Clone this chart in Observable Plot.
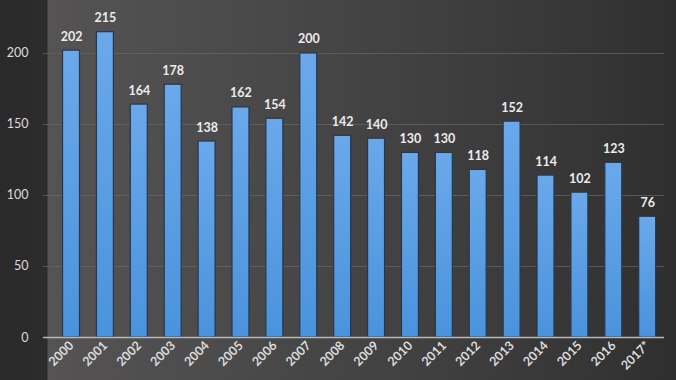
<!DOCTYPE html>
<html>
<head>
<meta charset="utf-8">
<script src="https://cdn.jsdelivr.net/npm/d3@7"></script>
<script src="https://cdn.jsdelivr.net/npm/@observablehq/plot@0.6"></script>
<style>
  html, body { margin: 0; padding: 0; background: #2b2b2b; }
  #chart {
    width: 676px; height: 380px; overflow: hidden;
    background:
      linear-gradient(to right, #2a2a2a 0px, #2c2c2c 47px, rgba(0,0,0,0) 48px),
      linear-gradient(to right, #575555 0%, #4d4c4c 30%, #3f3f3f 65%, #343434 90%, #2e2e2e 100%);
  }
  #chart svg { display: block; }
</style>
</head>
<body>
<div id="chart"></div>
<script>
const years = ["2000","2001","2002","2003","2004","2005","2006","2007","2008","2009","2010","2011","2012","2013","2014","2015","2016","2017*"];
const barValues = [202,215,164,178,138,162,154,200,142,140,130,130,118,152,114,102,123,85];
const valueLabels = ["202","215","164","178","138","162","154","200","142","140","130","130","118","152","114","102","123","76"];
const yTicks = [0,50,100,150,200];

const data = years.map((y, i) => ({year: y, value: barValues[i], label: valueLabels[i]}));

const chart = Plot.plot({
  width: 676,
  height: 380,
  marginLeft: 45.6,
  marginRight: 3.4,
  marginTop: 0,
  marginBottom: 43,
  style: {background: "transparent", fontFamily: "Lato, 'Open Sans', sans-serif", color: "#e2e2e2", overflow: "visible"},
  x: {domain: years, padding: 0.5, round: false, label: null},
  y: {domain: [0, 237.3], label: null},
  marks: [
    Plot.ruleY(yTicks.filter(d => d > 0), {stroke: "#6a6a6a", strokeOpacity: 0.7, strokeWidth: 1, insetLeft: -2.6, insetRight: 8.6}),
    Plot.axisY(yTicks, {tickSize: 0, tickPadding: 17.6, fontSize: 12.5, fill: "#dcdcdc", label: null}),
    Plot.barY(data, {x: "year", y: "value", fill: "url(#barGrad)", stroke: "#27384e", strokeWidth: 1.2}),
    Plot.ruleY([0], {stroke: "#b8b8b8", strokeWidth: 1.5, insetLeft: -2.6, insetRight: 8.6}),
    Plot.text(data, {x: "year", y: "value", text: "label", dy: -14, fill: "#ececec", fontSize: 12.5, fontWeight: "bold"}),
    Plot.axisX({tickSize: 0, tickPadding: 6, tickRotate: -45, fontSize: 12.5, fill: "#dcdcdc", fontWeight: "bold", label: null})
  ]
});
const ns = "http://www.w3.org/2000/svg";
const defs = document.createElementNS(ns, "defs");
defs.innerHTML = '<linearGradient id="barGrad" x1="0" y1="0" x2="0" y2="1">' +
  '<stop offset="0" stop-color="#6aa8ea"/><stop offset="1" stop-color="#4a93dc"/></linearGradient>';
chart.insertBefore(defs, chart.firstChild);
document.getElementById("chart").appendChild(chart);
</script>
</body>
</html>
